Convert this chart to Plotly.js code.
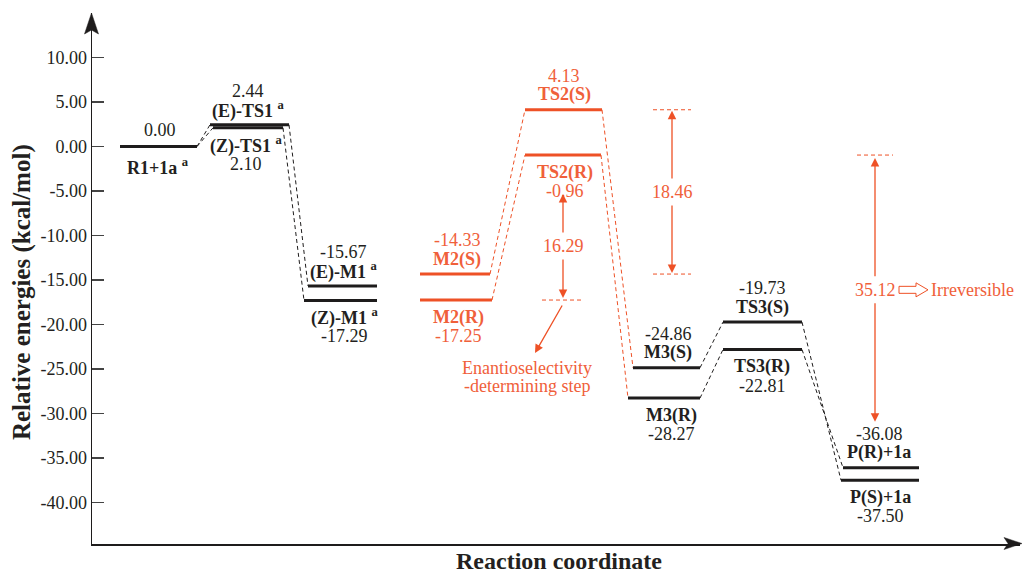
<!DOCTYPE html>
<html><head><meta charset="utf-8">
<script src="https://cdn.plot.ly/plotly-3.0.1.min.js"></script>
<style>html,body{margin:0;padding:0;background:#fff;} #chart{width:1024px;height:574px;}</style>
</head><body><div id="chart"></div>
<script>
// ---------- data ----------
const stageNames = ['R1+1a','(E)-TS1','(Z)-TS1','(E)-M1','(Z)-M1','M2(S)','M2(R)','TS2(S)','TS2(R)','M3(S)','M3(R)','TS3(S)','TS3(R)','P(R)+1a','P(S)+1a'];
const energies   = [0.00, 2.44, 2.10, -15.67, -17.29, -14.33, -17.25, 4.13, -0.96, -24.86, -28.27, -19.73, -22.81, -36.08, -37.50];
const footnoteA  = [1,1,1,1,1,0,0,0,0,0,0,0,0,0,0];
const yTicks     = [10,5,0,-5,-10,-15,-20,-25,-30,-35,-40];
const connections = [[0,1],[0,2],[1,3],[2,4],[5,7],[6,8],[7,9],[8,10],[9,11],[10,12],[11,14],[12,13]];
const gapPairs   = [[8,6],[7,5],[8,13]];   // [upper stage, lower stage]
const xTitle = 'Reaction coordinate';
const yTitle = 'Relative energies (kcal/mol)';
const noteLines = ['Enantioselectivity','-determining step'];
const noteRight = 'Irreversible';

// ---------- layout / style ----------
const xStart = [120,210,213,308,304,420,420,525,525,633,628,723,723,843,841];
const xEnd   = [197,289,283,377,377,490,492,602,601,700,700,802,802,919,919];
const labelX = [160,248,246,343,344,457,458,564,565,668,671,762,762,879,880];
const side   = ['split','above','below','above','below','above','below','above','below','above','below','above','below','above','below'];
const isOrange = [0,0,0,0,0,1,1,1,1,0,0,0,0,0,0];
const gapX = [563,672,875];
const gapTopPadPx = [39,1,3];
const gapBotPadPx = [2,1,46];
const gapDashHalf = [21,19,18];
const gapDashOn = [[false,true],[true,true],[true,false]]; // [upper, lower]

const PX = 8.9; // px per kcal/mol
const BLACK = '#1e1c1c', TXT = '#231f20';
const OR_LINE = '#EE5126', OR_TXT = '#F0603A';
const FONT = 'Liberation Serif, Times New Roman, serif';

const traces = [];
const ln = (x,y,color,width,dash) => traces.push({x, y, mode:'lines', line:{color, width, dash}, hoverinfo:'skip', showlegend:false});

connections.forEach(([a,b]) => ln([xEnd[a], xStart[b]], [energies[a], energies[b]], isOrange[a]?OR_LINE:BLACK, 1, '4px,3px'));
stageNames.forEach((n,i) => ln([xStart[i], xEnd[i]], [energies[i], energies[i]], isOrange[i]?OR_LINE:BLACK, 3, 'solid'));

const ann = [];
const txt = (x,y,text,color,yshift,extra) => ann.push(Object.assign({x, y, xref:'x', yref:'y', text, showarrow:false, yshift, borderpad:0, xanchor:'center', yanchor:'middle', font:{family:FONT, size:18, color}}, extra||{}));

stageNames.forEach((n,i) => {
  const col = isOrange[i] ? OR_TXT : TXT;
  const name = '<b>' + n + (footnoteA[i] ? ' <sup>a</sup>' : '') + '</b>';
  const val = energies[i].toFixed(2);
  if (side[i] === 'split') { txt(labelX[i], energies[i], val, col, 17); txt(labelX[i]-2, energies[i], name, col, -20); }
  else if (side[i] === 'above') { txt(labelX[i], energies[i], name, col, 15); txt(labelX[i], energies[i], val, col, 34); }
  else { txt(labelX[i], energies[i], name, col, -17); txt(labelX[i], energies[i], val, col, -36); }
});

const shapes = [];
gapPairs.forEach(([u,l], k) => {
  const gx = gapX[k];
  const top = energies[u] - gapTopPadPx[k]/PX;
  const bot = energies[l] + gapBotPadPx[k]/PX;
  const mid = (top + bot)/2;
  const half = 12/PX;
  if (gapDashOn[k][0]) ln([gx-gapDashHalf[k], gx+gapDashHalf[k]], [energies[u], energies[u]], OR_LINE, 1, '4px,3px');
  if (gapDashOn[k][1]) ln([gx-gapDashHalf[k], gx+gapDashHalf[k]], [energies[l], energies[l]], OR_LINE, 1, '4px,3px');
  const arr = (ty, hy) => ann.push({x:gx, y:hy, ax:gx, ay:ty, xref:'x', yref:'y', axref:'x', ayref:'y', text:'', showarrow:true, arrowhead:2, arrowsize:1.3, arrowwidth:1.3, arrowcolor:OR_LINE, standoff:0, startstandoff:0});
  arr(mid + half, top);
  arr(mid - half, bot);
  txt(gx, mid, (energies[u]-energies[l]).toFixed(2), OR_TXT, 0);
  if (k === 2) {
    txt(930, mid, noteRight, OR_TXT, 0, {xanchor:'left'});
    shapes.push({type:'path', xref:'x', yref:'y', xsizemode:'pixel', ysizemode:'pixel', xanchor:899, yanchor:mid,
      path:'M0,3.5 L17,3.5 L17,7 L29,0 L17,-7 L17,-3.5 L0,-3.5 Z', line:{color:OR_LINE, width:1}, fillcolor:'#ffffff'});
  }
  if (k === 0) {
    ann.push({x:gx-28, y:energies[l]-53/PX, ax:28, ay:-49, xref:'x', yref:'y', text:'', showarrow:true, arrowhead:2, arrowsize:1.3, arrowwidth:1.3, arrowcolor:OR_LINE, standoff:0});
    txt(527, energies[l], noteLines[0], OR_TXT, -68);
    txt(527, energies[l], noteLines[1], OR_TXT, -86);
  }
});

// axis titles
ann.push({x:0.503, y:0, xref:'paper', yref:'paper', yshift:-17, borderpad:0, text:'<b>'+xTitle+'</b>', showarrow:false, xanchor:'center', yanchor:'middle', font:{family:FONT, size:24, color:TXT}});
ann.push({x:0, y:-16.35, xref:'paper', yref:'y', xshift:-70, borderpad:0, text:'<b>'+yTitle+'</b>', textangle:-90, showarrow:false, xanchor:'center', yanchor:'middle', font:{family:FONT, size:25, color:TXT}});

// axis arrow heads
shapes.push({type:'path', xref:'paper', yref:'paper', xsizemode:'pixel', ysizemode:'pixel', xanchor:0, yanchor:1, path:'M-0.5,0 L-7.5,-21 L-0.5,-17 L6.5,-21 Z', line:{color:BLACK, width:0.5}, fillcolor:BLACK});
shapes.push({type:'path', xref:'paper', yref:'paper', xsizemode:'pixel', ysizemode:'pixel', xanchor:1, yanchor:0, path:'M2,0.5 L-16,6.5 L-12,0.5 L-16,-5.5 Z', line:{color:BLACK, width:0.5}, fillcolor:BLACK});

const layout = {
  width:1024, height:574, margin:{l:92, r:4, t:13, b:30},
  paper_bgcolor:'#ffffff', plot_bgcolor:'#ffffff', showlegend:false,
  xaxis:{range:[92,1020], showgrid:false, zeroline:false, showticklabels:false, ticks:'', showline:true, linecolor:BLACK, linewidth:1.5, fixedrange:true},
  yaxis:{range:[-44.66,15.0], showgrid:false, zeroline:false, tickvals:yTicks, ticktext:yTicks.map(v=>v.toFixed(2)), ticks:'inside', ticklen:12, tickwidth:1.5, tickcolor:'#444', showline:true, linecolor:BLACK, linewidth:1.5, tickfont:{family:FONT, size:18, color:TXT}, fixedrange:true},
  annotations:ann, shapes:shapes
};
Plotly.newPlot('chart', traces, layout, {displayModeBar:false, staticPlot:true});
</script></body></html>
